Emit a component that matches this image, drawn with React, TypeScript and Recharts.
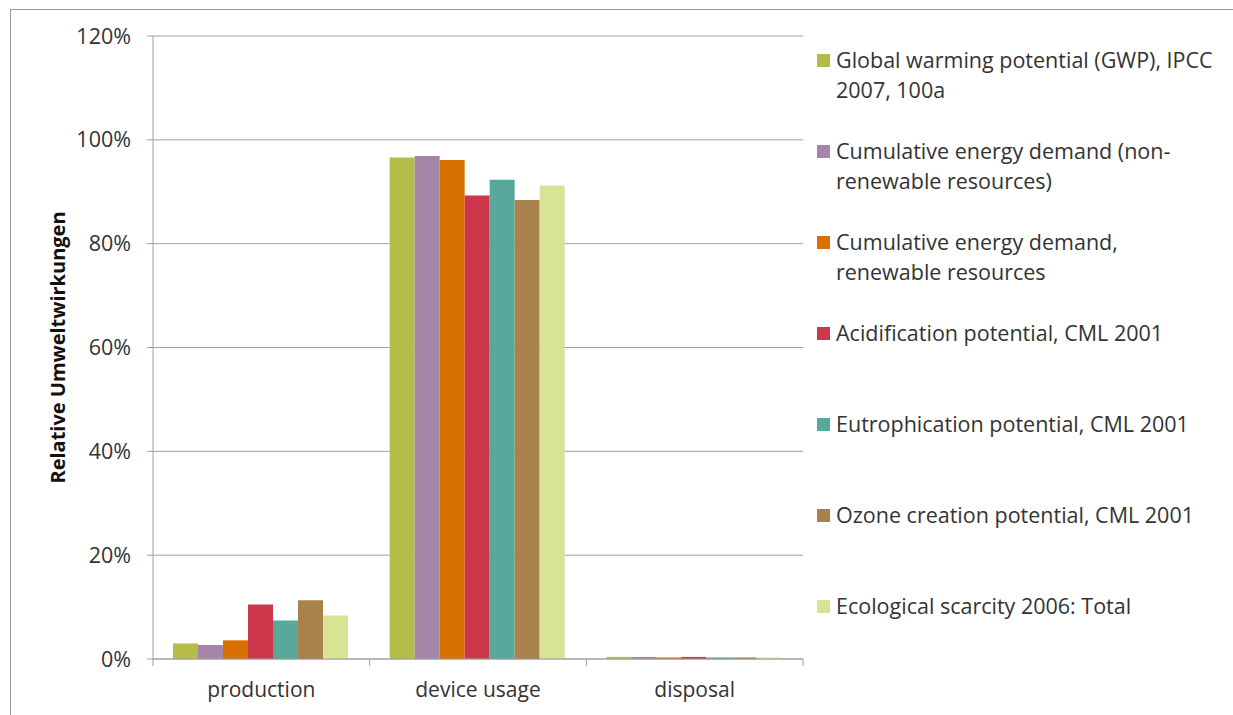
import React from "react";
import { BarChart, Bar, XAxis, YAxis, CartesianGrid, Legend } from "recharts";

const phases = ["production", "device usage", "disposal"];

// legend labels, split where the original legend wraps
const seriesLabels = [
  ["Global warming potential (GWP), IPCC", "2007, 100a"],
  ["Cumulative energy demand (non-", "renewable resources)"],
  ["Cumulative energy demand,", "renewable resources"],
  ["Acidification potential, CML 2001"],
  ["Eutrophication potential, CML 2001"],
  ["Ozone creation potential, CML 2001"],
  ["Ecological scarcity 2006: Total"],
];

const seriesColors = ["#b5bd48", "#a586a8", "#d97100", "#cd374c", "#59a89c", "#a8824a", "#d9e394"];

// share per phase, in %
const gwp = [3.0, 96.6, 0.4];
const cedNonRenewable = [2.7, 96.9, 0.4];
const cedRenewable = [3.6, 96.1, 0.3];
const acidification = [10.5, 89.3, 0.4];
const eutrophication = [7.4, 92.3, 0.3];
const ozone = [11.3, 88.4, 0.3];
const scarcity = [8.4, 91.2, 0.3];

const yTicks = [0, 20, 40, 60, 80, 100, 120];

const seriesValues = [gwp, cedNonRenewable, cedRenewable, acidification, eutrophication, ozone, scarcity];
const keys = seriesValues.map((_, i) => `s${i}`);

const data = phases.map((phase, p) => {
  const row: Record<string, string | number> = { phase };
  seriesValues.forEach((vals, i) => {
    row[keys[i]] = vals[p];
  });
  return row;
});

const W = 1233;
const H = 715;
const PLOT_LEFT = 153;
const PLOT_RIGHT = 803;
const PLOT_TOP = 36;
const PLOT_BOTTOM = 659;
const band = (PLOT_RIGHT - PLOT_LEFT) / phases.length;

const FONT = "'Open Sans', sans-serif";
const TEXT = "#333";
const GRID = "#a0a0a0";

function PhaseTick(props: any) {
  const { x, payload } = props;
  const left = x - band / 2;
  const right = x + band / 2;
  return (
    <g>
      <line x1={left} x2={left} y1={PLOT_BOTTOM} y2={PLOT_BOTTOM + 7} stroke={GRID} />
      {payload.index === phases.length - 1 && (
        <line x1={right} x2={right} y1={PLOT_BOTTOM} y2={PLOT_BOTTOM + 7} stroke={GRID} />
      )}
      <text x={x} y={PLOT_BOTTOM + 38} textAnchor="middle" fontSize={21} fontFamily={FONT} fill={TEXT}>
        {payload.value}
      </text>
    </g>
  );
}

function AxisTitle(props: any) {
  const vb = props.viewBox || {};
  const cy = (vb.y ?? PLOT_TOP) + (vb.height ?? PLOT_BOTTOM - PLOT_TOP) / 2;
  return (
    <text
      x={57}
      y={cy}
      transform={`rotate(-90, 57, ${cy})`}
      textAnchor="middle"
      dominantBaseline="central"
      fontSize={20}
      fontWeight="bold"
      fontFamily={FONT}
      fill="#111"
    >
      Relative Umweltwirkungen
    </text>
  );
}

function LegendList() {
  return (
    <div style={{ fontFamily: FONT, fontSize: 21.5, color: TEXT, lineHeight: "30px" }}>
      {seriesLabels.map((lines, i) => (
        <div key={i} style={{ display: "flex", height: 91 }}>
          <div
            style={{
              width: 13,
              height: 13,
              marginTop: 9,
              marginRight: 6,
              flex: "0 0 13px",
              background: seriesColors[i],
            }}
          />
          <div style={{ whiteSpace: "nowrap" }}>
            {lines.map((l) => (
              <div key={l}>{l}</div>
            ))}
          </div>
        </div>
      ))}
    </div>
  );
}

export default function App() {
  return (
    <div
      style={{
        position: "absolute",
        left: 0,
        top: 0,
        width: W,
        height: H,
        overflow: "hidden",
        background: "#fff",
      }}
    >
      <div
        style={{
          position: "absolute",
          left: 10,
          top: 9,
          width: 1400,
          height: 900,
          border: "1px solid #9a9a9a",
        }}
      />
      <BarChart
        width={W}
        height={H}
        data={data}
        margin={{ top: PLOT_TOP, right: W - PLOT_RIGHT, bottom: 0, left: 0 }}
        barCategoryGap={20}
        barGap={0}
      >
        <CartesianGrid vertical={false} stroke={GRID} />
        <XAxis
          dataKey="phase"
          height={H - PLOT_BOTTOM}
          stroke={GRID}
          tickLine={false}
          tick={<PhaseTick />}
          interval={0}
        />
        <YAxis
          width={PLOT_LEFT}
          domain={[0, 120]}
          ticks={yTicks}
          tickFormatter={(v: number) => `${v}%`}
          stroke={GRID}
          tickSize={6}
          tickMargin={16}
          tick={{ fontSize: 21.5, fontFamily: FONT, fill: TEXT }}
          label={<AxisTitle />}
        />
        <Legend
          layout="vertical"
          align="center"
          verticalAlign="middle"
          content={<LegendList />}
          wrapperStyle={{ left: 817, top: 45, width: 416, height: 650 }}
        />
        {keys.map((k, i) => (
          <Bar
            key={k}
            dataKey={k}
            name={seriesLabels[i].join(" ")}
            fill={seriesColors[i]}
            isAnimationActive={false}
          />
        ))}
      </BarChart>
    </div>
  );
}
